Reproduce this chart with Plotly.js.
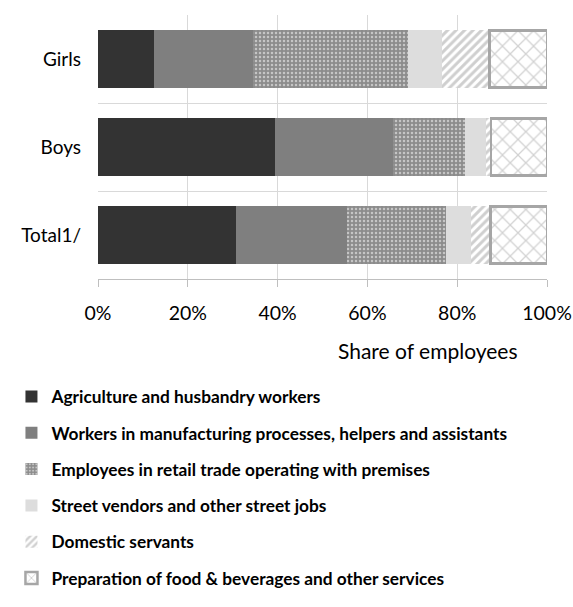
<!DOCTYPE html>
<html>
<head>
<meta charset="utf-8">
<script src="https://cdn.plot.ly/plotly-3.0.1.min.js"></script>
<style>html,body{margin:0;padding:0;background:#fff;}#chart{width:573px;height:607px;}</style>
</head>
<body>
<div id="chart"></div>
<script>
var categories = ['Girls', 'Boys', 'Total1/'];
var seriesNames = [
  'Agriculture and husbandry workers',
  'Workers in manufacturing processes, helpers and assistants',
  'Employees in retail trade operating with premises',
  'Street vendors and other street jobs',
  'Domestic servants',
  'Preparation of food & beverages and other services'
];
var agriculture   = [12.5, 39.5, 30.7];
var manufacturing = [22.0, 26.3, 24.8];
var retail        = [34.5, 16.0, 22.0];
var street        = [7.6, 4.6, 5.6];
var domestic      = [10.6, 1.1, 4.3];
var food          = [12.8, 12.5, 12.6];
var xTickVals = [0, 20, 40, 60, 80, 100];
var xTickText = ['0%', '20%', '40%', '60%', '80%', '100%'];

var seriesValues = [agriculture, manufacturing, retail, street, domestic, food];
var styles = [
  {color: '#333333'},
  {color: '#7f7f7f'},
  {color: '#8c8c8c', pattern: {shape: '.', fgcolor: '#ffffff', bgcolor: '#8c8c8c', size: 4, solidity: 0.3, fillmode: 'overlay'}},
  {color: '#dddddd'},
  {color: '#ffffff', pattern: {shape: '/', fgcolor: '#a0a0a0', bgcolor: '#ffffff', size: 6, solidity: 0.5, fillmode: 'overlay'}},
  {color: '#ffffff', pattern: {shape: 'x', fgcolor: '#a6a6a6', bgcolor: '#ffffff', size: 11, solidity: 0.22, fillmode: 'overlay'}, line: {color: '#a6a6a6', width: 2.5}}
];

var traces = seriesNames.map(function (name, i) {
  var m = {color: styles[i].color, line: styles[i].line || {width: 0}};
  if (styles[i].pattern) m.pattern = styles[i].pattern;
  return {
    type: 'bar', orientation: 'h', name: name,
    y: categories, x: seriesValues[i],
    marker: m, legendgroup: 'g' + i,
    hoverinfo: 'x+name'
  };
});

var layout = {
  width: 573, height: 607,
  margin: {l: 98, r: 26, t: 15, b: 328, autoexpand: false},
  barmode: 'stack', bargap: 0.35,
  paper_bgcolor: '#ffffff', plot_bgcolor: '#ffffff',
  font: {family: 'Lato, "Open Sans", sans-serif', color: '#000000', size: 19},
  xaxis: {
    range: [0, 100], tickvals: xTickVals, ticktext: xTickText,
    showgrid: true, gridcolor: '#d9d9d9', gridwidth: 1,
    zeroline: false, showline: true, linecolor: '#bfbfbf', linewidth: 1,
    ticks: 'outside', ticklen: 7, tickcolor: '#bfbfbf', ticklabelstandoff: 10,
    tickfont: {size: 19.5}, fixedrange: true, automargin: false
  },
  yaxis: {
    type: 'category', autorange: 'reversed',
    tickson: 'boundaries', ticks: '', showgrid: true, gridcolor: '#d9d9d9', gridwidth: 1,
    zeroline: false, showline: false, ticklabelstandoff: 16,
    tickfont: {size: 19}, fixedrange: true, automargin: false
  },
  showlegend: true,
  legend: {
    orientation: 'v', xref: 'container', yref: 'container',
    x: 0.02, xanchor: 'left', y: 0.376, yanchor: 'top',
    traceorder: 'grouped', tracegroupgap: 10.8,
    font: {size: 17.3, family: 'Lato, "Open Sans", sans-serif', weight: 'bold'},
    itemwidth: 30, bgcolor: 'rgba(0,0,0,0)'
  },
  annotations: [{
    text: 'Share of employees', xref: 'paper', yref: 'paper',
    x: 0.735, y: -0.270, xanchor: 'center', yanchor: 'middle',
    showarrow: false, font: {size: 21}
  }]
};

Plotly.newPlot('chart', traces, layout, {displayModeBar: false, staticPlot: true});
</script>
</body>
</html>
